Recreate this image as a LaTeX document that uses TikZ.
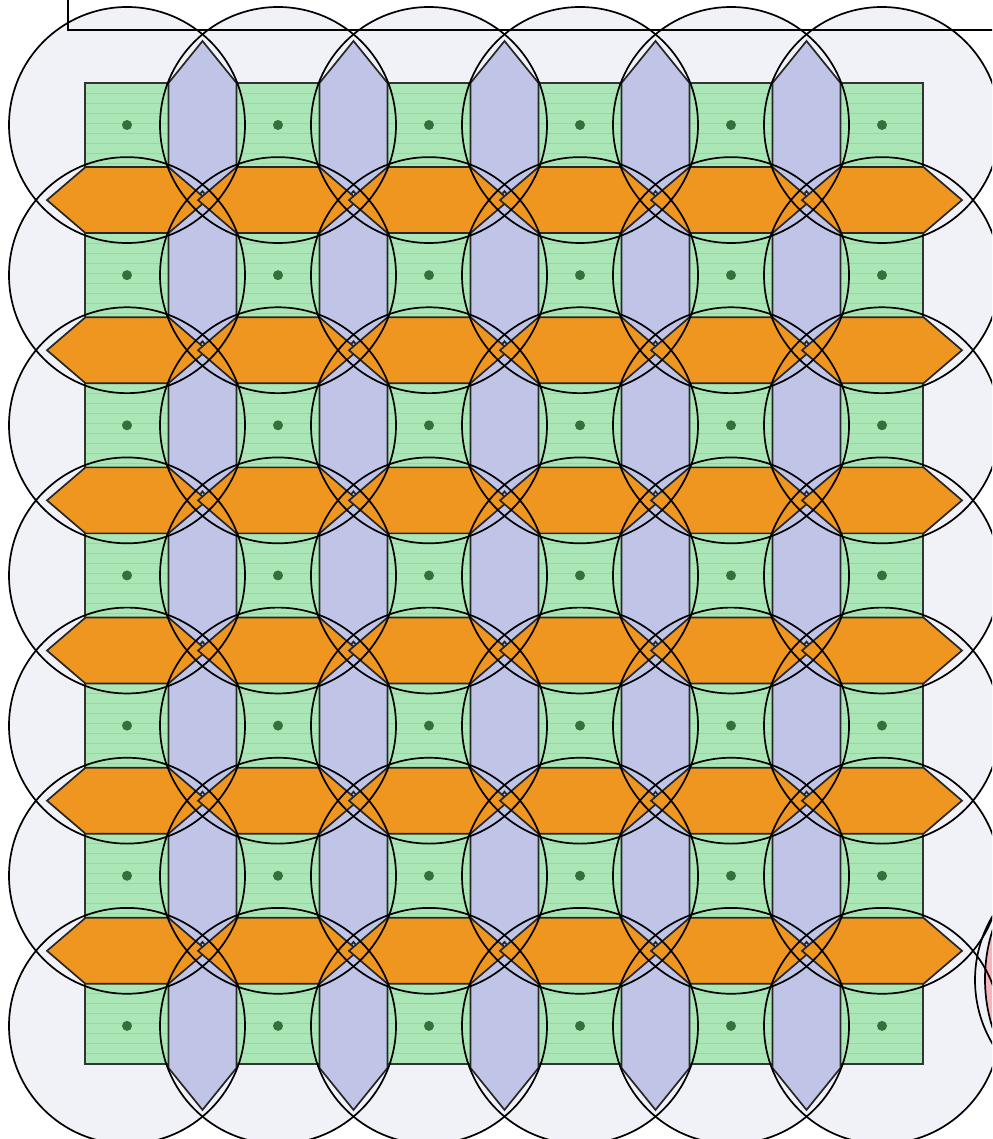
\documentclass[tikz,border=0pt]{standalone}
\definecolor{circfill}{RGB}{241,241,248}
\definecolor{greenfill}{RGB}{170,230,182}
\definecolor{greenline}{RGB}{140,222,152}
\definecolor{bluefill}{RGB}{192,196,230}
\definecolor{orangefill}{RGB}{239,150,32}
\definecolor{dotgreen}{RGB}{50,112,62}
\definecolor{pinkfill}{RGB}{246,182,190}
\begin{document}
\begin{tikzpicture}[x=1pt,y=-1pt,
  outl/.style={draw=black,line width=1.7pt},
  bluehex/.style={fill=bluefill,draw=black!85,line width=1.7pt,line join=miter},
  orangehex/.style={fill=orangefill,draw=black!85,line width=1.7pt,line join=miter},
  greenrect/.style={draw=black!80,line width=1.5pt},
  dotmark/.style={fill=dotgreen}]
\useasboundingbox (0,0) rectangle (992,1139);
\clip (0,0) rectangle (992,1139);
% union of circle fills
\fill[circfill] foreach \i in {0,...,5} { foreach \j in {0,...,6} { ({127+151*\i},{125+150.15*\j}) circle[radius=118] } } (1100,980) circle[radius=125];
% green base
\fill[greenfill] (85,83) rectangle (923,1064);
\foreach \y in {93,103,...,1063} \draw[greenline,line width=0.9pt] (85,\y) -- (923,\y);
\draw[greenrect] (85,83) rectangle (923,1064);
% dots
\foreach \i in {0,...,5} \foreach \j in {0,...,6} \fill[dotmark] ({127+151*\i},{125+150.15*\j}) circle[radius=5];
% blue vertical hexagons
\foreach \i in {0,...,4} \foreach \j in {0,...,6} {
  \filldraw[bluehex,shift={({202.5+151*\i},{125+150.15*\j})}] (0,-84) -- (34,-42) -- (34,42) -- (0,84) -- (-34,42) -- (-34,-42) -- cycle;
}
% orange horizontal hexagons
\foreach \i in {0,...,5} \foreach \j in {0,...,5} {
  \filldraw[orangehex,shift={({127+151*\i},{200.075+150.15*\j})}] (-80,0) -- (-41.5,-33) -- (41.5,-33) -- (80,0) -- (41.5,33) -- (-41.5,33) -- cycle;
}
% pink partial shape
\filldraw[fill=pinkfill,outl] (1045,979) ellipse[x radius=60,y radius=100];
% circle outlines
\foreach \i in {0,...,5} \foreach \j in {0,...,6} \draw[outl] ({127+151*\i},{125+150.15*\j}) circle[radius=118];
\draw[outl] (1100,980) circle[radius=125];
% top frame
\draw[outl] (68,-20) rectangle (1020,30);
\end{tikzpicture}
\end{document}
